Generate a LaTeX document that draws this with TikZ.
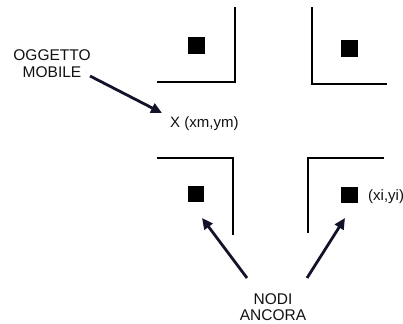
\documentclass[tikz,border=0pt]{standalone}
\usepackage{fontspec}
\setmainfont{Liberation Sans}
\usetikzlibrary{arrows.meta}
\definecolor{arrowcol}{HTML}{12122A}
\definecolor{txtcol}{HTML}{111111}
\tikzset{
  wall/.style={line width=2.6pt, line cap=rect, black},
  anchorsq/.style={fill=black, draw=none, minimum size=16.5pt, inner sep=0pt},
  pointer/.style={line width=2.8pt, arrowcol, -{Triangle[length=11pt,width=10pt]}},
  lbl/.style={font=\fontsize{15.5pt}{16.5pt}\selectfont, text=txtcol, inner sep=0pt, align=center},
  coordlbl/.style={font=\fontsize{15pt}{16.5pt}\selectfont, text=txtcol, inner sep=0pt, anchor=base west}
}
\begin{document}
\begin{tikzpicture}[x=1pt,y=-1pt]
\useasboundingbox (0,0) rectangle (403,323);
% corner walls
\draw[wall] (158,82) -- (235,82) -- (235,8);
\draw[wall] (312,8) -- (312,84) -- (386,84);
\draw[wall] (158,158) -- (233,158) -- (233,234);
\draw[wall] (308,232) -- (308,158) -- (383,158);
% anchor nodes
\node[anchorsq] (a1) at (196.5,45.5) {};
\node[anchorsq] (a2) at (349.5,48.5) {};
\node[anchorsq] (a3) at (196,194) {};
\node[anchorsq] (a4) at (349.5,195) {};
% labels
\node[lbl] (obj) at (52,63.5) {OGGETTO\\MOBILE};
\node[coordlbl] (xm) at (170,128) {X (xm,ym)};
\node[coordlbl] (xi) at (368,200) {(xi,yi)};
\node[lbl] (nodi) at (273,307) {NODI\\ANCORA};
% arrow ends
\coordinate (t0) at (162,113);
\coordinate (t1) at (202,218);
\coordinate (t2) at (345,218);
\coordinate (s0) at (90,76);
\coordinate (s1) at (247,278);
\coordinate (s2) at (307,278);
\draw[pointer] (s0) -- (t0);
\draw[pointer] (s1) -- (t1);
\draw[pointer] (s2) -- (t2);
\end{tikzpicture}
\end{document}
